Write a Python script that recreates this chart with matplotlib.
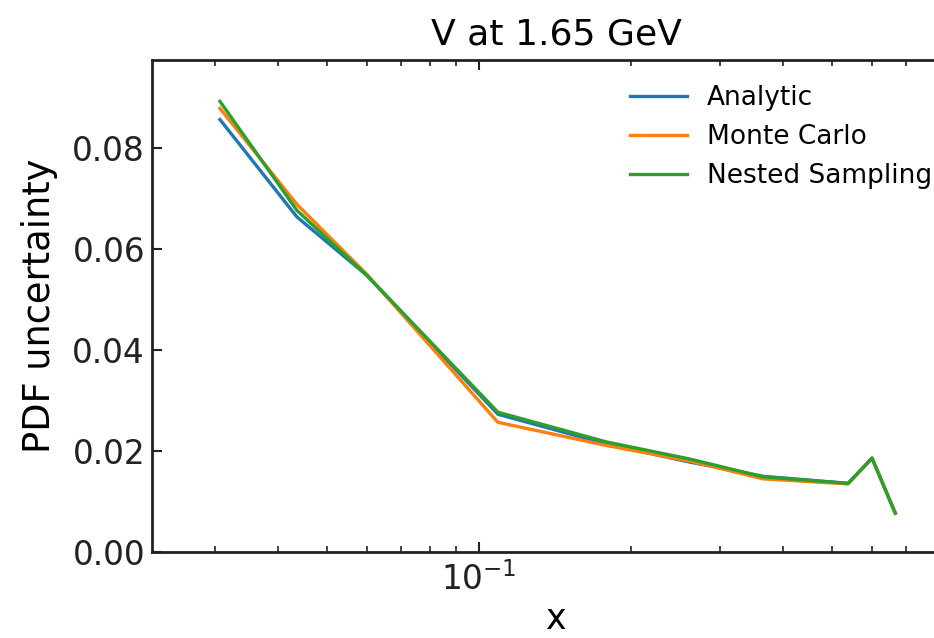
import matplotlib
matplotlib.use('Agg')
import matplotlib.pyplot as plt

# x grid and PDF uncertainty per fit method
x = [0.0307, 0.0436, 0.060, 0.109, 0.179, 0.262, 0.365, 0.538, 0.600, 0.667]
analytic = [0.0857, 0.0664, 0.0548, 0.0273, 0.0214, 0.0178, 0.0150, 0.0136, 0.0186, 0.0077]
monte_carlo = [0.0879, 0.0689, 0.0550, 0.0257, 0.0211, 0.0180, 0.0145, 0.0135, 0.0186, 0.0077]
nested = [0.0893, 0.0677, 0.0548, 0.0277, 0.0218, 0.0184, 0.0149, 0.0136, 0.0186, 0.0077]

W, H = 934, 638
fig = plt.figure(figsize=(W / 100, H / 100), dpi=100)
# axes run past the right edge of the canvas
ax = fig.add_axes([152 / W, (H - 552) / H, (960 - 152) / W, (552 - 60) / H])

ax.plot(x, analytic, color='#1f77b4', lw=2.4, label='Analytic')
ax.plot(x, monte_carlo, color='#ff7f0e', lw=2.4, label='Monte Carlo')
ax.plot(x, nested, color='#2ca02c', lw=2.4, label='Nested Sampling')

ax.set_xscale('log')
ax.set_xlim(0.02252, 0.896)
ax.set_ylim(0, 0.0975)
ax.set_yticks([0.0, 0.02, 0.04, 0.06, 0.08])

for s in ax.spines.values():
    s.set_linewidth(2)
    s.set_color('#222222')
ax.tick_params(which='both', direction='in', top=True, right=True,
               colors='#222222', labelcolor='#222222', labelsize=23.5)
ax.tick_params(which='major', length=7, width=1.5)
ax.tick_params(which='minor', length=4, width=1.2)
ax.tick_params(axis='x', which='major', pad=7)
ax.tick_params(axis='y', which='major', pad=5)

ax.set_title('V at 1.65 GeV', fontsize=26, pad=11)
ax.set_xlabel('x', fontsize=25, labelpad=4)
ax.set_ylabel('PDF uncertainty', fontsize=26.5, labelpad=10)

fig.legend(loc='upper left', bbox_to_anchor=(630 / W, 1 - 85 / H),
           frameon=False, fontsize=19, borderpad=0, borderaxespad=0,
           handlelength=2.15, handletextpad=0.76, labelspacing=0.5)

fig.savefig('out.png', dpi=100)
